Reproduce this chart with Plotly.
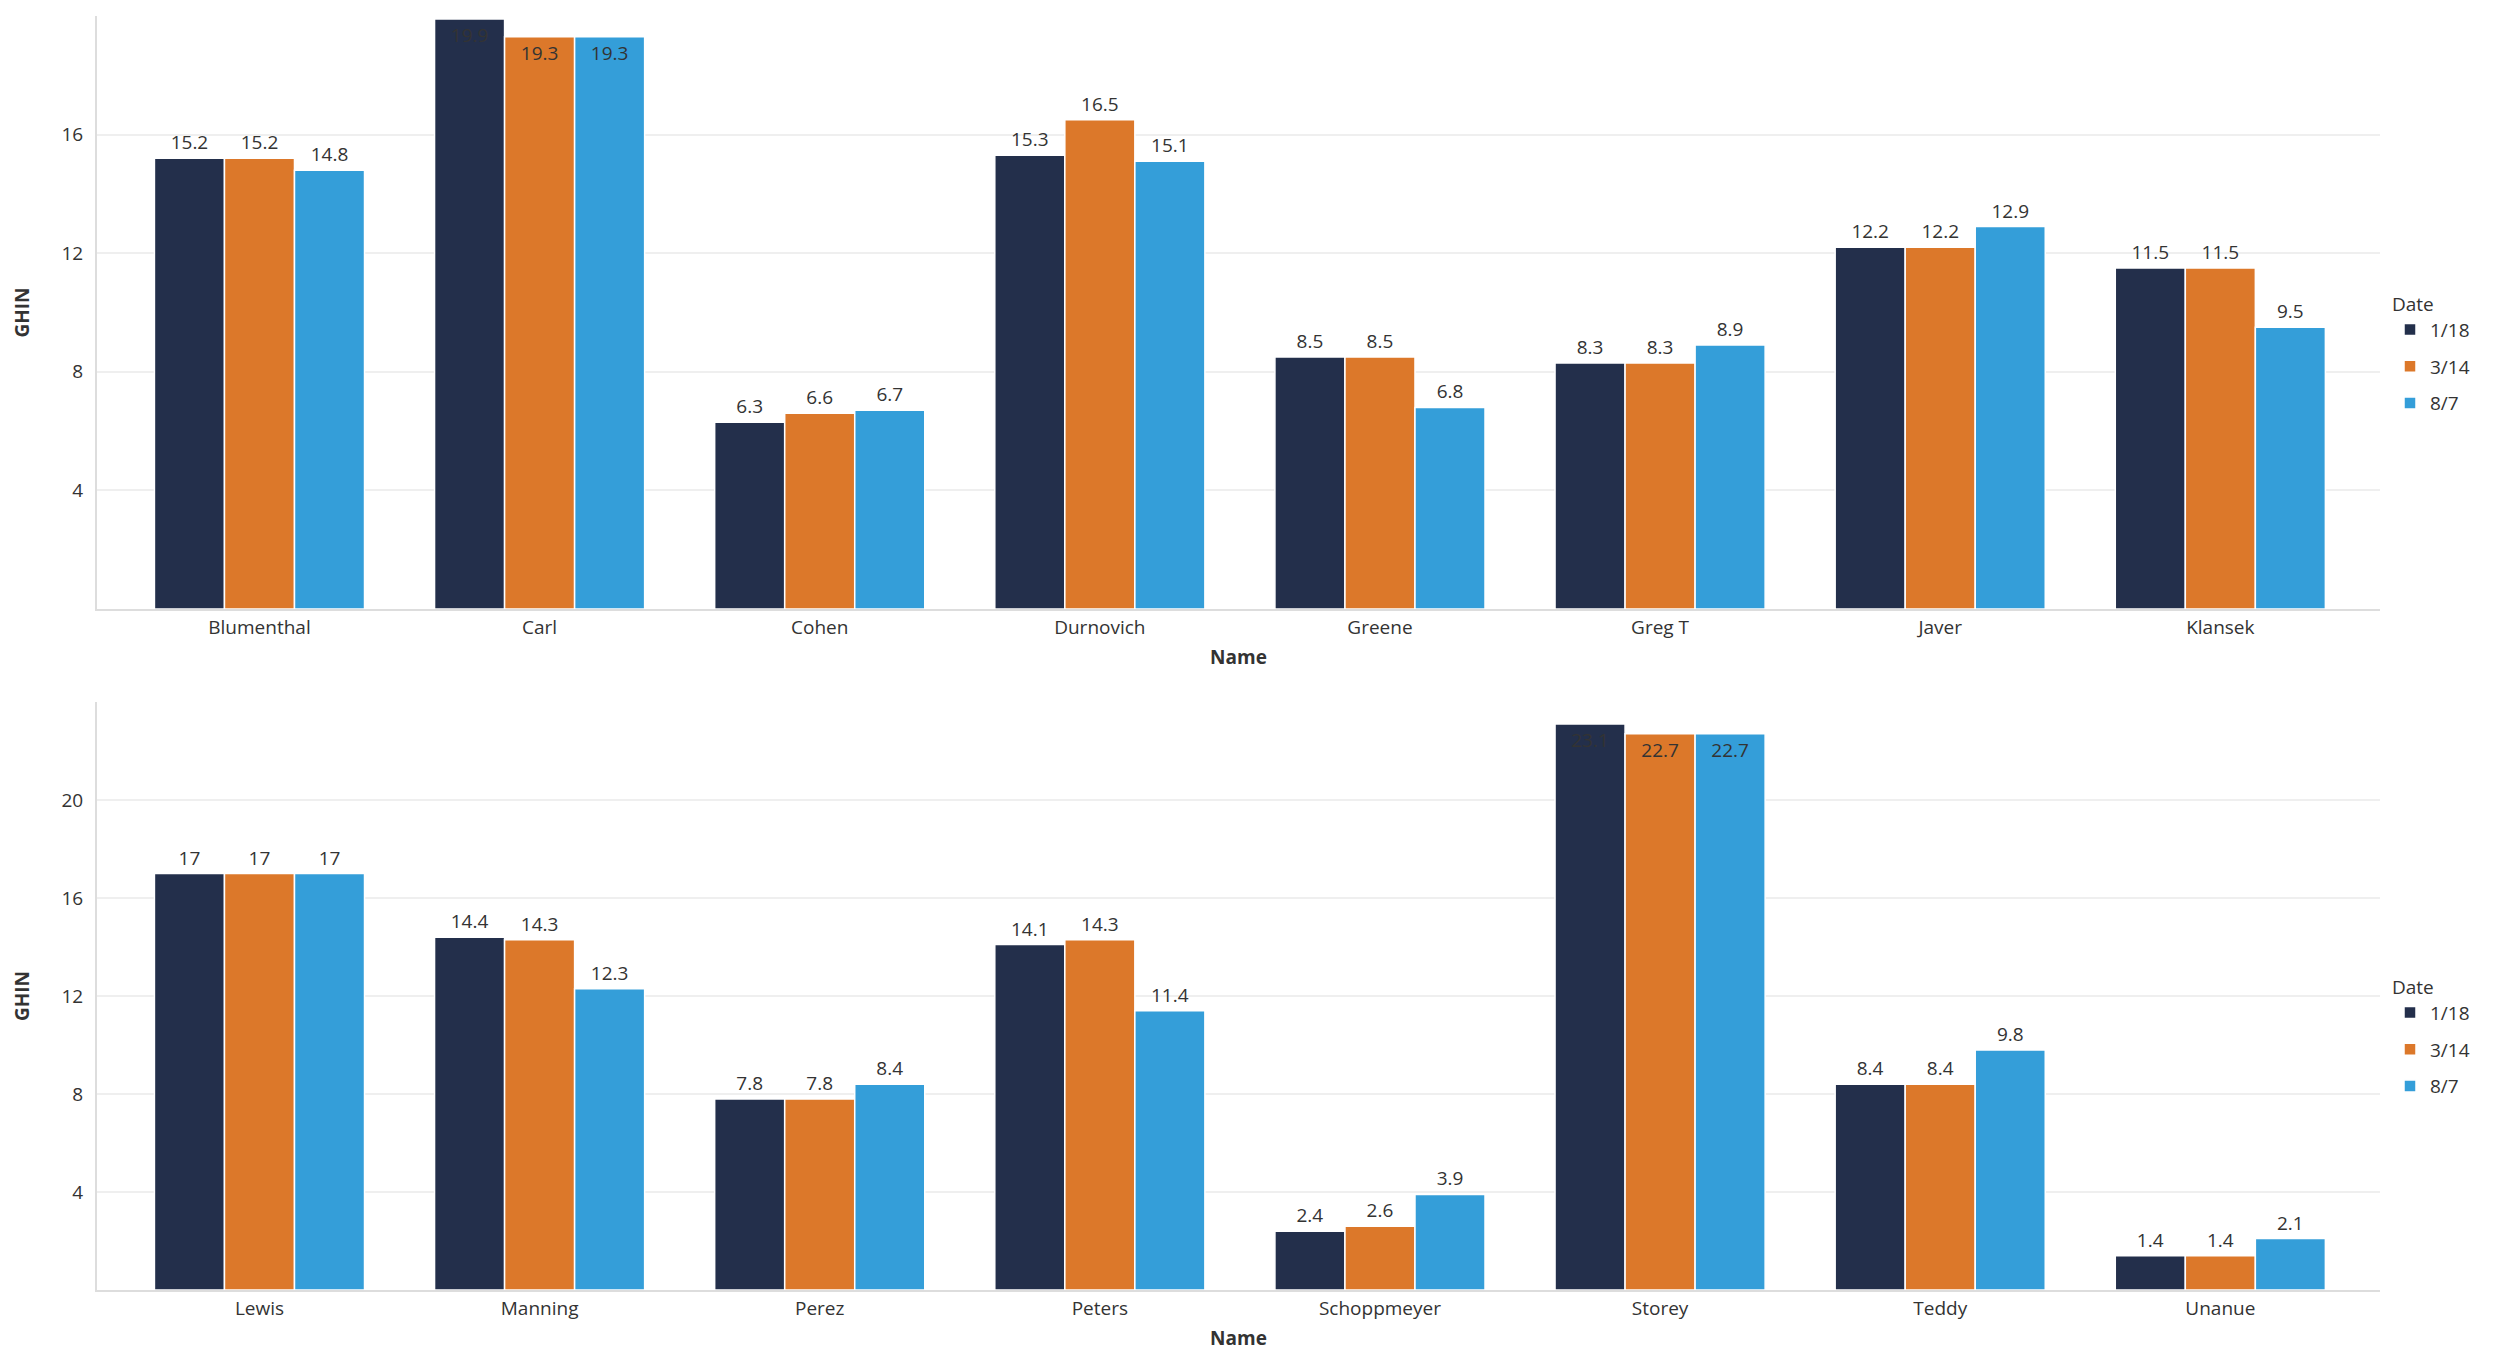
import plotly.graph_objects as go

names_top = ["Blumenthal", "Carl", "Cohen", "Durnovich", "Greene", "Greg T", "Javer", "Klansek"]
top_118 = [15.2, 19.9, 6.3, 15.3, 8.5, 8.3, 12.2, 11.5]
top_314 = [15.2, 19.3, 6.6, 16.5, 8.5, 8.3, 12.2, 11.5]
top_87 = [14.8, 19.3, 6.7, 15.1, 6.8, 8.9, 12.9, 9.5]

names_bot = ["Lewis", "Manning", "Perez", "Peters", "Schoppmeyer", "Storey", "Teddy", "Unanue"]
bot_118 = [17, 14.4, 7.8, 14.1, 2.4, 23.1, 8.4, 1.4]
bot_314 = [17, 14.3, 7.8, 14.3, 2.6, 22.7, 8.4, 1.4]
bot_87 = [17, 12.3, 8.4, 11.4, 3.9, 22.7, 9.8, 2.1]

dates = ["1/18", "3/14", "8/7"]
colors = ["#232F4B", "#DC782A", "#349ED9"]

FONT = "Open Sans"
TXT = "#333333"

fig = go.Figure()

def add_group(names, series, xa, ya, legend, ymax, tag):
    for i, (d, vals, c) in enumerate(zip(dates, series, colors)):
        pos = ["inside" if v > ymax - 1.5 else "outside" for v in vals]
        fig.add_trace(go.Bar(
            x=names, y=vals, name=d, xaxis=xa, yaxis=ya, legend=legend,
            legendgroup=f"{tag}{i}",
            marker=dict(color=c, line=dict(color="white", width=1.5)),
            text=[f"{v:g}" for v in vals], textposition=pos,
            insidetextanchor="end",
            textfont=dict(family=FONT, size=19, color=TXT),
            insidetextfont=dict(family=FONT, size=19, color=TXT),
            outsidetextfont=dict(family=FONT, size=19, color=TXT),
            cliponaxis=False,
        ))

add_group(names_top, [top_118, top_314, top_87], "x", "y", "legend", 20, "t")
add_group(names_bot, [bot_118, bot_314, bot_87], "x2", "y2", "legend2", 24, "b")

W, H = 2500, 1360
xd = [89 / W, 2372 / W]
xrange = [-0.58, 7.57]
axis_common = dict(showline=True, linecolor="#dddddd", linewidth=2, ticks="",
                   tickfont=dict(family=FONT, size=19, color=TXT))
title_font = dict(family=FONT, size=19, color=TXT)

def legend_cfg(top_px):
    return dict(x=2382 / W, y=1 - top_px / H, xanchor="left", yanchor="top",
                title=dict(text="Date", font=title_font),
                font=dict(family=FONT, size=19, color=TXT), itemwidth=30,
                tracegroupgap=9, bgcolor="rgba(0,0,0,0)")

fig.update_layout(
    width=W, height=H,
    margin=dict(l=0, r=0, t=0, b=0),
    paper_bgcolor="white", plot_bgcolor="white",
    font=dict(family=FONT, color=TXT),
    barmode="group", bargap=0.25, bargroupgap=0.0,
    xaxis=dict(domain=xd, anchor="y", range=xrange, **axis_common,
               title=dict(text="<b>Name</b>", font=title_font, standoff=12)),
    yaxis=dict(domain=[1 - 601 / H, 1 - 8 / H], anchor="x", range=[0, 20],
               tickvals=[4, 8, 12, 16], showgrid=True, gridcolor="#efefef", gridwidth=2,
               zeroline=False, ticklabelstandoff=8, **axis_common,
               title=dict(text="<b>GHIN</b>", font=title_font, standoff=27)),
    xaxis2=dict(domain=xd, anchor="y2", range=xrange, **axis_common,
                title=dict(text="<b>Name</b>", font=title_font, standoff=12)),
    yaxis2=dict(domain=[1 - 1282 / H, 1 - 694 / H], anchor="x2", range=[0, 24],
                tickvals=[4, 8, 12, 16, 20], showgrid=True, gridcolor="#efefef", gridwidth=2,
                zeroline=False, ticklabelstandoff=8, **axis_common,
                title=dict(text="<b>GHIN</b>", font=title_font, standoff=27)),
    legend=legend_cfg(278),
    legend2=legend_cfg(961),
    showlegend=True,
)

fig.write_html("out.html")
